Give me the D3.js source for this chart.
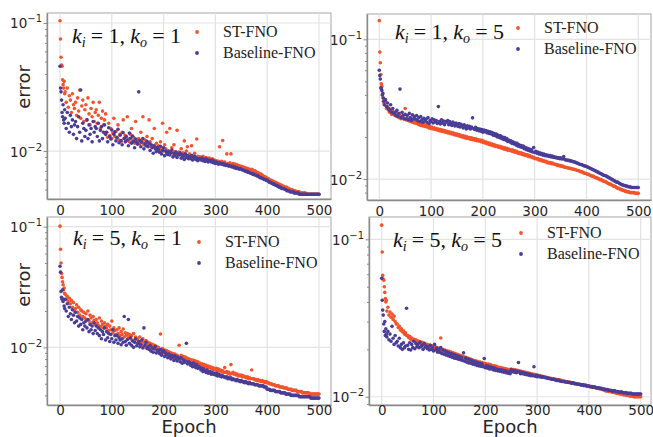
<!DOCTYPE html>
<html>
<head>
<meta charset="utf-8">
<script src="https://cdn.jsdelivr.net/npm/d3@7"></script>
<style>
  body { margin: 0; background: #fff; }
  svg { display: block; }
  .tick-lbl { font-family: "DejaVu Sans", sans-serif; font-size: 13.5px; fill: #262626; }
  .eje-lbl { font-family: "DejaVu Sans", sans-serif; font-size: 18px; fill: #262626; }
  .titulo { font-family: "Liberation Serif", serif; font-size: 22px; fill: #111; white-space: pre; }
  .leyenda { font-family: "Liberation Serif", serif; font-size: 16px; fill: #222; }
</style>
</head>
<body>
<div id="graf"></div>
<script>
// Datos
// epochs 0..9 one by one, then every 2nd epoch up to 500
const epochs = d3.range(0, 10).concat(d3.range(10, 501, 2))
const xTicks = [0, 100, 200, 300, 400, 500]
const yTicks = [0.01, 0.1]
const serieNames = ["ST-FNO", "Baseline-FNO"]

// error values, in units of 1e-4
// k_i = 1, k_o = 1
const st11 = [
  1040, 750, 540, 470, 460, 360, 330, 310, 350, 280,
  290, 240, 310, 220, 270, 250, 200, 280, 230, 215,
  240, 190, 260, 205, 300, 180, 225, 250, 170, 210,
  230, 175, 260, 195, 160, 215, 185, 240, 170, 200,
  210, 165, 190, 240, 150, 180, 205, 160, 175, 195,
  140, 128, 165, 132, 150, 125, 138, 180, 130, 142,
  128, 160, 122, 135, 118, 140, 175, 126, 132, 120,
  185, 124, 118, 135, 150, 120, 128, 115, 170, 122,
  118, 125, 114, 140, 120, 185, 112, 122, 116, 130,
  112, 175, 118, 108, 125, 110, 150, 106, 115, 104,
  110, 102, 118, 106, 165, 100, 112, 104, 140, 101,
  100, 150, 98, 106, 96, 112, 99, 95, 145, 97,
  98, 94, 104, 92, 97, 120, 93, 100, 108, 91,
  95, 90, 110, 92, 89, 96, 88, 124, 91, 87,
  90, 88, 86, 91, 87, 85, 89, 86, 84, 88,
  86, 84, 87, 83, 85, 82, 84, 81, 83, 108,
  81, 83, 121, 80, 82, 79, 95, 80, 78, 81,
  95, 78, 80, 77, 79, 76, 78, 76, 77, 75,
  76, 75, 75, 74, 74, 73, 73, 72, 72, 71,
  72, 71, 70, 70, 69, 68, 68, 67, 66, 66,
  65, 64, 63, 63, 62, 61, 61, 60, 59, 59,
  58, 58, 57, 57, 56, 56, 55, 55, 54, 54,
  53, 53, 52, 52, 52, 51, 51, 50, 50, 50,
  49, 49, 49, 48, 48, 48, 48, 47, 47, 47,
  47, 47, 47, 46, 46, 46, 46, 46, 46, 46,
  46, 46, 46, 46, 46, 46
]
const bl11 = [
  460, 310, 290, 250, 200, 185, 230, 175, 165, 210,
  180, 150, 200, 165, 140, 190, 155, 175, 135, 160,
  170, 125, 155, 185, 140, 300, 120, 165, 150, 130,
  145, 175, 125, 160, 135, 150, 118, 170, 140, 155,
  150, 130, 165, 120, 145, 155, 125, 140, 160, 135,
  140, 118, 152, 130, 124, 146, 112, 135, 141, 120,
  127, 148, 116, 133, 121, 112, 139, 125, 118, 130,
  122, 110, 138, 126, 115, 131, 119, 106, 124, 117,
  113, 290, 121, 108, 117, 125, 104, 114, 110, 119,
  108, 115, 101, 112, 106, 96, 110, 104, 99, 107,
  103, 98, 109, 95, 101, 106, 92, 100, 97, 94,
  99, 93, 97, 102, 90, 96, 92, 98, 89, 94,
  93, 97, 88, 94, 91, 86, 95, 89, 92, 87,
  90, 87, 92, 85, 89, 91, 86, 88, 84, 87,
  87, 85, 88, 84, 86, 83, 87, 84, 82, 85,
  84, 82, 85, 81, 83, 80, 82, 81, 79, 81,
  80, 79, 80, 78, 79, 77, 78, 77, 76, 77,
  76, 75, 76, 74, 75, 73, 74, 73, 72, 73,
  72, 71, 71, 70, 70, 69, 69, 68, 68, 67,
  67, 66, 66, 65, 65, 64, 64, 63, 62, 62,
  61, 61, 60, 60, 59, 59, 58, 57, 57, 56,
  56, 55, 55, 54, 54, 53, 53, 52, 52, 51,
  51, 51, 50, 50, 49, 49, 49, 48, 48, 48,
  48, 47, 47, 47, 47, 47, 46, 46, 46, 46,
  46, 46, 46, 46, 46, 46, 46, 46, 46, 46,
  46, 46, 46, 46, 46, 46
]
// k_i = 1, k_o = 5
const st15 = [
  1360, 810, 680, 560, 480, 460, 400, 380, 360, 350,
  340, 360, 320, 330, 310, 300, 315, 290, 305, 295,
  285, 300, 280, 290, 275, 285, 270, 280, 275, 268,
  320, 265, 272, 262, 268, 258, 265, 255, 262, 252,
  258, 250, 255, 245, 252, 242, 248, 240, 246, 238,
  242, 236, 240, 232, 238, 230, 235, 228, 233, 226,
  230, 224, 228, 222, 226, 220, 224, 218, 222, 216,
  220, 214, 218, 212, 216, 210, 214, 208, 212, 206,
  210, 204, 208, 202, 206, 200, 204, 198, 202, 196,
  200, 195, 198, 193, 197, 191, 195, 190, 194, 188,
  192, 187, 190, 185, 189, 183, 186, 181, 184, 179,
  182, 177, 180, 175, 178, 173, 176, 171, 174, 170,
  172, 168, 171, 166, 169, 164, 167, 163, 166, 161,
  164, 160, 162, 158, 161, 156, 159, 155, 157, 153,
  155, 152, 154, 150, 152, 148, 150, 147, 149, 145,
  147, 144, 145, 142, 143, 140, 141, 139, 140, 137,
  138, 136, 137, 134, 135, 133, 134, 131, 132, 130,
  131, 129, 130, 128, 128, 127, 127, 125, 126, 124,
  125, 123, 124, 122, 122, 121, 121, 120, 120, 119,
  119, 118, 118, 117, 117, 116, 115, 115, 114, 113,
  113, 112, 111, 110, 110, 109, 108, 108, 107, 106,
  105, 105, 104, 103, 102, 102, 101, 100, 99, 99,
  98, 97, 96, 96, 95, 94, 93, 92, 92, 91,
  90, 89, 89, 88, 87, 86, 86, 85, 84, 84,
  83, 83, 82, 82, 81, 81, 81, 80, 80, 80,
  80, 80, 79, 79, 79, 79
]
const bl15 = [
  600, 550, 520, 450, 440, 430, 400, 410, 380, 360,
  340, 370, 330, 350, 320, 310, 340, 300, 320, 295,
  300, 285, 310, 280, 295, 440, 275, 300, 285, 270,
  290, 270, 285, 265, 295, 275, 262, 288, 270, 280,
  268, 285, 262, 275, 258, 280, 265, 255, 272, 260,
  268, 255, 275, 250, 262, 258, 270, 252, 265, 256,
  262, 250, 330, 258, 248, 265, 252, 260, 245, 258,
  255, 262, 245, 258, 250, 242, 256, 248, 240, 252,
  245, 238, 250, 236, 246, 240, 232, 244, 236, 228,
  240, 232, 238, 228, 236, 274, 230, 226, 235, 224,
  230, 222, 228, 220, 226, 216, 224, 218, 222, 214,
  220, 212, 218, 210, 215, 206, 212, 204, 210, 200,
  206, 198, 204, 195, 200, 192, 198, 190, 195, 186,
  190, 184, 188, 180, 185, 178, 182, 175, 180, 172,
  176, 170, 174, 168, 172, 165, 168, 162, 166, 160,
  164, 158, 162, 156, 168, 155, 158, 153, 156, 151,
  154, 150, 152, 148, 151, 147, 149, 146, 148, 145,
  147, 144, 146, 143, 144, 142, 143, 141, 142, 140,
  142, 139, 140, 145, 138, 137, 137, 136, 136, 135,
  135, 134, 133, 133, 132, 131, 130, 129, 128, 127,
  127, 126, 125, 124, 124, 123, 122, 121, 120, 119,
  118, 117, 116, 115, 114, 113, 112, 111, 110, 109,
  108, 107, 106, 106, 105, 104, 103, 102, 101, 100,
  99, 98, 97, 96, 95, 95, 94, 93, 92, 91,
  91, 90, 90, 89, 89, 88, 88, 88, 87, 87,
  87, 87, 87, 87, 87, 87
]
// k_i = 5, k_o = 1
const st51 = [
  1010, 650, 500, 410, 380, 350, 330, 300, 310, 280,
  275, 250, 265, 240, 255, 230, 245, 215, 235, 200,
  210, 225, 195, 215, 185, 205, 200, 180, 195, 175,
  190, 170, 200, 165, 185, 175, 160, 180, 168, 155,
  170, 160, 152, 175, 148, 165, 155, 145, 160, 150,
  145, 155, 138, 150, 140, 165, 132, 145, 138, 128,
  140, 130, 145, 125, 135, 128, 142, 122, 132, 126,
  130, 120, 128, 118, 125, 115, 130, 112, 122, 118,
  116, 108, 122, 112, 104, 118, 110, 101, 114, 107,
  110, 102, 108, 100, 106, 98, 104, 97, 102, 95,
  100, 94, 129, 92, 98, 90, 95, 89, 94, 88,
  92, 87, 90, 85, 89, 84, 88, 83, 86, 82,
  104, 82, 86, 80, 84, 79, 83, 78, 81, 77,
  80, 76, 79, 75, 78, 74, 77, 73, 76, 72,
  74, 71, 73, 70, 72, 69, 71, 68, 70, 68,
  69, 67, 68, 66, 67, 65, 67, 64, 66, 64,
  65, 63, 64, 62, 68, 62, 63, 61, 62, 60,
  72, 61, 62, 60, 61, 59, 60, 58, 59, 58,
  59, 57, 58, 57, 57, 56, 57, 55, 56, 55,
  65, 55, 55, 54, 54, 53, 54, 53, 53, 52,
  53, 52, 52, 51, 52, 51, 51, 50, 50, 50,
  49, 49, 49, 48, 48, 48, 48, 47, 47, 47,
  47, 46, 46, 46, 46, 45, 45, 45, 45, 44,
  44, 44, 44, 44, 43, 43, 43, 43, 43, 42,
  42, 42, 42, 42, 42, 42, 41, 41, 41, 41,
  41, 41, 41, 41, 41, 41
]
const bl51 = [
  470, 420, 290, 260, 250, 300, 240, 250, 220, 210,
  250, 200, 230, 180, 215, 190, 170, 205, 185, 160,
  195, 165, 180, 150, 175, 155, 170, 140, 160, 150,
  165, 145, 170, 135, 155, 140, 150, 130, 160, 138,
  150, 130, 145, 125, 140, 118, 135, 128, 145, 115,
  135, 120, 130, 112, 128, 118, 140, 110, 125, 115,
  125, 108, 120, 115, 105, 118, 110, 180, 112, 104,
  116, 170, 108, 120, 104, 113, 100, 110, 118, 103,
  108, 112, 101, 106, 115, 99, 145, 104, 110, 98,
  101, 96, 104, 93, 99, 91, 97, 102, 90, 95,
  93, 89, 96, 86, 91, 94, 84, 90, 87, 82,
  88, 84, 80, 86, 83, 78, 85, 81, 77, 83,
  80, 76, 82, 74, 79, 75, 77, 108, 73, 76,
  75, 71, 73, 69, 74, 70, 68, 72, 67, 69,
  68, 65, 67, 63, 66, 64, 62, 65, 61, 63,
  63, 60, 62, 60, 61, 59, 61, 58, 60, 58,
  59, 57, 58, 57, 57, 56, 57, 55, 56, 55,
  56, 54, 55, 54, 54, 53, 54, 53, 53, 52,
  53, 52, 52, 51, 52, 51, 51, 50, 51, 50,
  50, 50, 50, 49, 49, 49, 49, 48, 48, 48,
  48, 48, 47, 47, 47, 45, 45, 45, 44, 44,
  44, 44, 44, 43, 43, 43, 43, 43, 42, 42,
  42, 42, 42, 41, 41, 41, 41, 41, 40, 40,
  40, 40, 40, 40, 40, 40, 39, 39, 39, 39,
  39, 39, 39, 39, 39, 39, 39, 38, 38, 38,
  38, 38, 38, 38, 38, 38
]
// k_i = 5, k_o = 5
const st55 = [
  1230, 830, 590, 560, 550, 500, 460, 420, 400, 410,
  350, 370, 330, 345, 320, 335, 310, 325, 300, 290,
  290, 275, 280, 265, 270, 258, 262, 250, 255, 245,
  245, 238, 242, 232, 236, 228, 232, 225, 230, 222,
  226, 220, 224, 218, 222, 214, 219, 212, 216, 210,
  214, 208, 212, 205, 210, 203, 208, 200, 206, 198,
  204, 197, 236, 195, 200, 192, 198, 190, 196, 188,
  194, 186, 192, 184, 190, 182, 188, 180, 186, 178,
  184, 177, 182, 175, 180, 173, 178, 171, 176, 170,
  174, 168, 172, 167, 170, 165, 169, 164, 167, 163,
  166, 162, 165, 160, 163, 159, 162, 157, 161, 156,
  160, 155, 158, 154, 157, 152, 156, 151, 154, 150,
  153, 149, 152, 148, 151, 147, 150, 146, 149, 145,
  150, 146, 149, 145, 148, 144, 147, 143, 146, 142,
  145, 141, 144, 140, 143, 139, 142, 139, 141, 138,
  140, 138, 139, 137, 138, 137, 137, 136, 136, 135,
  135, 134, 134, 133, 133, 132, 132, 131, 131, 130,
  130, 130, 129, 129, 128, 128, 128, 127, 127, 126,
  126, 126, 125, 125, 124, 124, 124, 123, 123, 122,
  122, 122, 121, 121, 120, 120, 120, 119, 119, 119,
  118, 118, 118, 117, 117, 117, 116, 116, 115, 115,
  115, 114, 114, 113, 113, 113, 112, 112, 111, 111,
  110, 109, 109, 109, 108, 108, 108, 107, 107, 107,
  106, 106, 105, 105, 105, 104, 104, 104, 103, 103,
  103, 102, 102, 102, 101, 101, 101, 101, 100, 100,
  100, 100, 100, 100, 100, 100
]
const bl55 = [
  565, 410, 355, 330, 290, 260, 300, 245, 270, 250,
  240, 260, 230, 250, 225, 280, 235, 215, 245, 220,
  225, 210, 235, 205, 215, 200, 220, 205, 210, 365,
  212, 200, 220, 198, 215, 205, 225, 202, 218, 208,
  215, 205, 222, 208, 212, 200, 218, 206, 210, 202,
  208, 198, 212, 200, 205, 195, 215, 198, 204, 192,
  200, 192, 205, 188, 198, 186, 195, 184, 192, 182,
  190, 180, 188, 178, 186, 176, 184, 175, 182, 173,
  180, 172, 178, 170, 190, 168, 176, 166, 174, 164,
  172, 163, 170, 161, 168, 160, 166, 158, 164, 157,
  163, 156, 161, 155, 175, 153, 158, 152, 156, 150,
  155, 150, 153, 148, 152, 147, 150, 146, 149, 145,
  148, 144, 147, 143, 146, 142, 145, 141, 144, 140,
  148, 144, 147, 143, 146, 142, 145, 165, 144, 140,
  143, 140, 142, 139, 141, 138, 140, 137, 139, 136,
  138, 136, 155, 135, 137, 134, 136, 134, 135, 133,
  134, 133, 133, 132, 132, 131, 131, 130, 130, 129,
  129, 129, 128, 128, 127, 127, 127, 126, 126, 125,
  125, 125, 124, 124, 124, 123, 123, 123, 122, 122,
  122, 121, 121, 121, 120, 120, 120, 119, 119, 119,
  118, 118, 118, 117, 117, 117, 116, 116, 116, 115,
  115, 115, 114, 114, 114, 113, 113, 113, 112, 112,
  112, 111, 111, 111, 110, 110, 110, 109, 109, 109,
  109, 108, 108, 108, 107, 107, 107, 107, 106, 106,
  106, 106, 105, 105, 105, 105, 105, 104, 104, 104,
  104, 104, 104, 104, 104, 104
]
const UNIT = 1e-4

// Paneles (layout)
const panels = [
  { ki: 1, ko: 1, st: st11, bl: bl11, left: 47, top: 13, right: 331, bottom: 199,
    xDom: [-25.1, 523.2], yDom: [0.00422, 0.1197], title: [25, 30], legend: [150, 19],
    xLbl: 16, errY: 87 },
  { ki: 1, ko: 5, st: st15, bl: bl15, left: 367, top: 14, right: 651, bottom: 200,
    xDom: [-23.7, 524.5], yDom: [0.00708, 0.1517], title: [28, 25], legend: [151, 14],
    xLbl: 16 },
  { ki: 5, ko: 1, st: st51, bl: bl51, left: 47, top: 217, right: 331, bottom: 405,
    xDom: [-25.1, 523.2], yDom: [0.00333, 0.1203], title: [26, 28], legend: [152, 25],
    xLbl: 9.5, errY: 285, epoch: true },
  { ki: 5, ko: 5, st: st55, bl: bl55, left: 369, top: 217, right: 651, bottom: 405,
    xDom: [-24.5, 519.9], yDom: [0.00886, 0.1386], title: [24, 30], legend: [152, 16],
    xLbl: 9.5, epoch: true },
]

const colors = ["#f4532b", "#4a3d97"]
const gridColor = "#e3e3e3"
const spineColor = "#8a8a8a"

const svg = d3
  .select("#graf")
  .append("svg")
  .attr("width", 653)
  .attr("height", 437)

const minorTicks = (dom) => {
  const out = []
  for (let e = -4; e <= 0; e++) {
    for (let k = 2; k <= 9; k++) {
      const v = k * Math.pow(10, e)
      if (v > dom[0] && v < dom[1]) out.push(v)
    }
  }
  return out
}

panels.forEach((p) => {
  const x = d3.scaleLinear().domain(p.xDom).range([p.left, p.right])
  const y = d3.scaleLog().domain(p.yDom).range([p.bottom, p.top])
  const g = svg.append("g")

  // fondo
  g.append("rect")
    .attr("x", p.left)
    .attr("y", p.top)
    .attr("width", p.right - p.left)
    .attr("height", p.bottom - p.top)
    .attr("fill", "white")
    .attr("stroke", "#b5b5b5")
    .attr("stroke-width", 1.2)

  // grilla
  g.append("g")
    .selectAll("line")
    .data(xTicks)
    .join("line")
    .attr("x1", (d) => x(d))
    .attr("x2", (d) => x(d))
    .attr("y1", p.top)
    .attr("y2", p.bottom)
    .attr("stroke", gridColor)
    .attr("stroke-width", 1.2)
  g.append("g")
    .selectAll("line")
    .data(yTicks)
    .join("line")
    .attr("x1", p.left)
    .attr("x2", p.right)
    .attr("y1", (d) => y(d))
    .attr("y2", (d) => y(d))
    .attr("stroke", gridColor)
    .attr("stroke-width", 1.2)

  // puntos
  ;[p.st, p.bl].forEach((serie, si) => {
    g.append("g")
      .selectAll("circle")
      .data(serie.map((v, i) => ({ e: epochs[i], v: v * UNIT })))
      .join("circle")
      .attr("cx", (d) => x(d.e))
      .attr("cy", (d) => y(d.v))
      .attr("r", 1.8)
      .attr("fill", colors[si])
  })

  // eje x
  const xAxis = g
    .append("g")
    .attr("transform", `translate(0, ${p.bottom})`)
    .call(d3.axisBottom(x).tickValues(xTicks).tickSize(0).tickSizeOuter(0).tickPadding(0))
  xAxis.select(".domain").attr("stroke", spineColor).attr("stroke-width", 1.4)
  xAxis.selectAll(".tick text")
    .attr("class", "tick-lbl")
    .attr("dy", null)
    .attr("y", p.xLbl)

  // eje y
  const yMinor = g
    .append("g")
    .attr("transform", `translate(${p.left}, 0)`)
    .call(d3.axisLeft(y).tickValues(minorTicks(p.yDom)).tickSize(2).tickFormat(""))
  yMinor.select(".domain").remove()
  yMinor.selectAll(".tick line").attr("stroke", spineColor)

  const yAxis = g
    .append("g")
    .attr("transform", `translate(${p.left}, 0)`)
    .call(d3.axisLeft(y).tickValues(yTicks).tickSize(3.5).tickSizeOuter(0).tickFormat(""))
  yAxis.select(".domain").attr("stroke", spineColor).attr("stroke-width", 1.4)
  yAxis.selectAll(".tick line").attr("stroke", spineColor)
  const yl = yAxis
    .selectAll(".tick")
    .append("text")
    .attr("class", "tick-lbl")
    .attr("x", -5)
    .attr("y", 5)
    .attr("text-anchor", "end")
  yl.append("tspan").text("10")
  yl.append("tspan")
    .attr("dy", -6)
    .attr("font-size", "10px")
    .text((d) => "\u2212" + Math.round(-Math.log10(d)))

  // titulo
  const t = g
    .append("text")
    .attr("class", "titulo")
    .attr("x", p.left + p.title[0])
    .attr("y", p.top + p.title[1])
    .attr("textLength", 109)
  t.append("tspan").attr("font-style", "italic").text("k")
  t.append("tspan").attr("font-style", "italic").attr("font-size", "14px").attr("dy", 4).text("i")
  t.append("tspan").attr("dy", -4).text(` = ${p.ki}, `)
  t.append("tspan").attr("font-style", "italic").text("k")
  t.append("tspan").attr("font-style", "italic").attr("font-size", "14px").attr("dy", 4).text("o")
  t.append("tspan").attr("dy", -4).text(` = ${p.ko}`)

  // leyenda
  serieNames.forEach((name, si) => {
    const ly = p.top + p.legend[1] + si * 21
    g.append("circle")
      .attr("cx", p.left + p.legend[0])
      .attr("cy", ly)
      .attr("r", 1.9)
      .attr("fill", colors[si])
    g.append("text")
      .attr("class", "leyenda")
      .attr("x", p.left + p.legend[0] + 26)
      .attr("y", ly + 5)
      .text(name)
  })

  // etiquetas de ejes
  if (p.errY) {
    g.append("text")
      .attr("class", "eje-lbl")
      .attr("transform", `translate(30, ${p.errY}) rotate(-90)`)
      .attr("text-anchor", "middle")
      .text("error")
  }
  if (p.epoch) {
    g.append("text")
      .attr("class", "eje-lbl")
      .attr("x", (p.left + p.right) / 2)
      .attr("y", 433)
      .attr("font-size", "16px")
      .attr("text-anchor", "middle")
      .text("Epoch")
  }
})
</script>
</body>
</html>
